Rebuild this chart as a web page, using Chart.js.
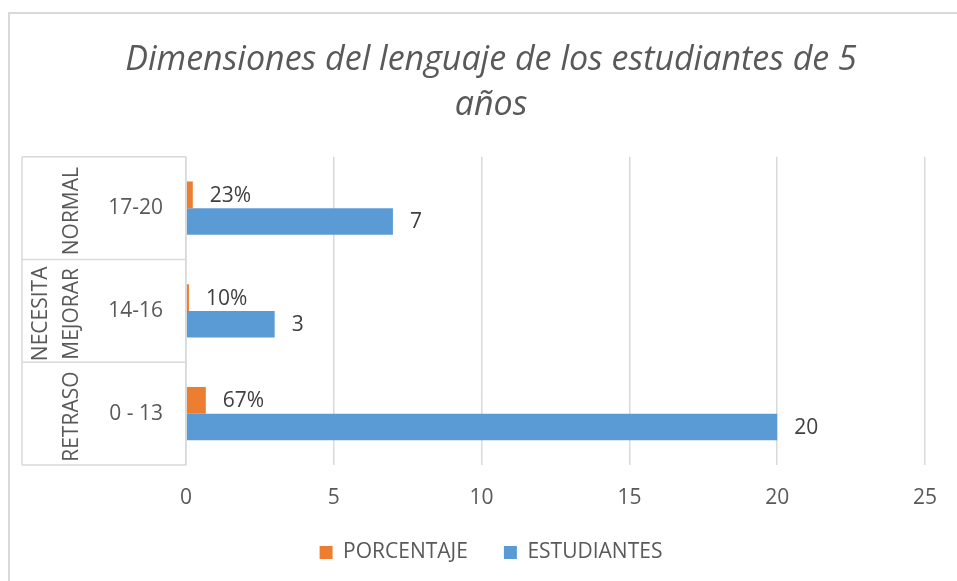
<!DOCTYPE html>
<html>
<head>
<meta charset="utf-8">
<script src="https://cdn.jsdelivr.net/npm/chart.js@4.4.1/dist/chart.umd.min.js"></script>
<style>
    html, body { margin: 0; padding: 0; background: #fff; overflow: hidden; }
    #wrap { width: 957px; height: 581px; }
</style>
</head>
<body>
<div id="wrap"><canvas id="chart" width="957" height="581"></canvas></div>
<script>
// categories, top to bottom
const rangeLabels = ['17-20', '14-16', '0 - 13'];
const groupLabels = [['NORMAL'], ['NECESITA', 'MEJORAR'], ['RETRASO']];

// series
const porcentaje = [0.23, 0.10, 0.67];
const estudiantes = [7, 3, 20];

// x axis ticks
const xMin = 0;
const xMax = 25;
const xStep = 5;

const titleLines = ['Dimensiones del lenguaje de los estudiantes de 5', 'años'];

const FONT = "'Open Sans', sans-serif";
const GRID = '#d9d9d9';

// frame round the whole chart (only left and top edges are inside the picture)
const framePlugin = {
    id: 'frame',
    beforeDraw(chart) {
        const ctx = chart.ctx;
        ctx.save();
        ctx.fillStyle = '#fff';
        ctx.fillRect(0, 0, chart.width, chart.height);
        ctx.fillStyle = GRID;
        ctx.fillRect(8, 12, 2, chart.height);
        ctx.fillRect(8, 12, chart.width, 2);
        ctx.restore();
    }
};

// the boxed two-level category labels on the left
const groupPlugin = {
    id: 'groups',
    afterDraw(chart) {
        const ctx = chart.ctx;
        const area = chart.chartArea;
        const yScale = chart.scales.y;
        const n = rangeLabels.length;
        const band = (area.bottom - area.top) / n;
        const boxLeft = 22;

        ctx.save();
        ctx.strokeStyle = GRID;
        ctx.lineWidth = 1.5;
        ctx.beginPath();
        for (let i = 0; i <= n; i++) {
            const y = area.top + band * i;
            ctx.moveTo(boxLeft, y);
            ctx.lineTo(area.left, y);
        }
        ctx.moveTo(boxLeft, area.top);
        ctx.lineTo(boxLeft, area.bottom);
        ctx.moveTo(area.left, area.top);
        ctx.lineTo(area.left, area.bottom);
        ctx.stroke();

        ctx.fillStyle = '#595959';
        ctx.font = `21px ${FONT}`;
        ctx.textAlign = 'center';
        ctx.textBaseline = 'middle';
        groupLabels.forEach((lines, i) => {
            const cy = yScale.getPixelForValue(i) + 3;
            const lineGap = 31;
            const lastX = 72;
            lines.forEach((text, j) => {
                const x = lastX - (lines.length - 1 - j) * lineGap;
                ctx.save();
                ctx.translate(x, cy);
                ctx.rotate(-Math.PI / 2);
                ctx.fillText(text, 0, 0);
                ctx.restore();
            });
        });
        ctx.restore();
    }
};

// value labels right of each bar
const valueLabelPlugin = {
    id: 'valueLabels',
    afterDatasetsDraw(chart) {
        const ctx = chart.ctx;
        ctx.save();
        ctx.fillStyle = '#404040';
        ctx.font = `21px ${FONT}`;
        ctx.textAlign = 'left';
        ctx.textBaseline = 'middle';
        chart.data.datasets.forEach((ds, di) => {
            const meta = chart.getDatasetMeta(di);
            meta.data.forEach((bar, i) => {
                const v = ds.data[i];
                const text = di === 0 ? Math.round(v * 100) + '%' : String(v);
                ctx.fillText(text, bar.x + 17, bar.y + 1);
            });
        });
        ctx.restore();
    }
};

new Chart(document.getElementById('chart'), {
    type: 'bar',
    data: {
        labels: rangeLabels,
        datasets: [
            {
                label: 'PORCENTAJE',
                data: porcentaje,
                backgroundColor: '#ED7D31',
                categoryPercentage: 0.52,
                barPercentage: 1
            },
            {
                label: 'ESTUDIANTES',
                data: estudiantes,
                backgroundColor: '#5B9BD5',
                categoryPercentage: 0.52,
                barPercentage: 1
            }
        ]
    },
    options: {
        indexAxis: 'y',
        responsive: false,
        animation: false,
        layout: {
            padding: { left: 53, right: 28, top: 0, bottom: 8 }
        },
        plugins: {
            title: {
                display: true,
                text: titleLines,
                color: '#595959',
                font: { family: FONT, size: 34, style: 'italic', weight: 'normal', lineHeight: 1.32 },
                padding: { top: 38, bottom: 29 }
            },
            legend: {
                position: 'bottom',
                labels: {
                    color: '#595959',
                    font: { family: FONT, size: 21 },
                    boxWidth: 13,
                    boxHeight: 13,
                    padding: 36
                }
            },
            tooltip: { enabled: false }
        },
        scales: {
            x: {
                min: xMin,
                max: xMax,
                ticks: {
                    stepSize: xStep,
                    color: '#595959',
                    font: { family: FONT, size: 21 },
                    padding: 20
                },
                grid: { color: GRID, lineWidth: 1.5, drawTicks: false },
                border: { display: false },
                afterFit(scale) { scale.height = 41; }
            },
            y: {
                ticks: {
                    color: '#595959',
                    font: { family: FONT, size: 21 },
                    padding: 15
                },
                grid: { display: false },
                border: { display: false },
                afterFit(scale) { scale.width = 133; }
            }
        }
    },
    plugins: [framePlugin, groupPlugin, valueLabelPlugin]
});
</script>
</body>
</html>
